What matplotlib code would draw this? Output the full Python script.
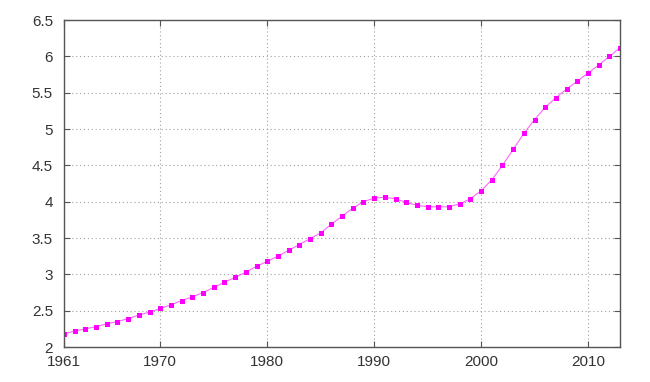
import numpy as np
import matplotlib
matplotlib.use('Agg')
import matplotlib.pyplot as plt

plt.rcParams['font.family'] = ['Liberation Sans', 'DejaVu Sans']

# yearly values
years = list(range(1961, 2014))
values = [2.18, 2.22, 2.25, 2.28, 2.32, 2.35, 2.39, 2.44, 2.48, 2.53,
          2.58, 2.64, 2.69, 2.75, 2.82, 2.89, 2.96, 3.03, 3.11, 3.18,
          3.25, 3.33, 3.41, 3.49, 3.57, 3.69, 3.80, 3.91, 4.00, 4.05,
          4.06, 4.04, 3.99, 3.95, 3.93, 3.93, 3.93, 3.97, 4.04, 4.15,
          4.30, 4.50, 4.72, 4.94, 5.13, 5.30, 5.43, 5.55, 5.66, 5.77,
          5.88, 6.00, 6.12]

x_ticks = [1961, 1970, 1980, 1990, 2000, 2010]
y_ticks = [2, 2.5, 3, 3.5, 4, 4.5, 5, 5.5, 6, 6.5]
y_labels = ['2', '2.5', '3', '3.5', '4', '4.5', '5', '5.5', '6', '6.5']

fig = plt.figure(figsize=(6.5, 3.82), dpi=100)
ax = fig.add_axes([0.0985, 0.0916, 0.8555, 0.856])

ax.plot(years, values, color='#ff00ff', linewidth=0.8, alpha=0.6)
ax.plot(years, values, linestyle='none', marker='s', markersize=3.6,
        color='#ff00ff', markeredgewidth=0)

ax.set_xlim(1961, 2013)
ax.set_ylim(2, 6.5)
ax.set_xticks(x_ticks)
ax.set_yticks(y_ticks)
ax.set_yticklabels(y_labels)

# dotted grid like gnuplot
ax.grid(True, linestyle=(0, (1, 2.5)), color='#a0a0a0', linewidth=0.8)

ax.tick_params(direction='in', top=True, right=True, length=4,
               colors='#555555', labelcolor='#333333', labelsize=11)
ax.tick_params(axis='x', pad=6)
ax.tick_params(axis='y', pad=8)
for s in ax.spines.values():
    s.set_color('#555555')
    s.set_linewidth(1.0)

plt.savefig('out.png', dpi=100)
